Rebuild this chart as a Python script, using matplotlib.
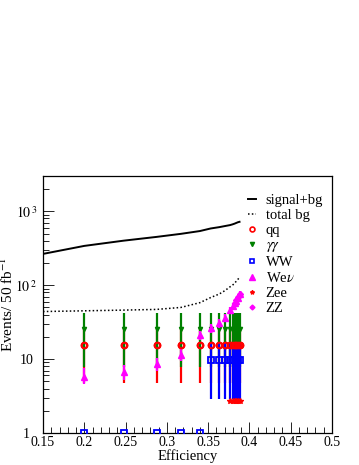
import numpy as np
import matplotlib
matplotlib.use('Agg')
from matplotlib import pyplot as plt
from matplotlib.lines import Line2D
from matplotlib.ticker import FixedLocator, NullFormatter

plt.rcParams['font.family'] = ['Liberation Serif', 'DejaVu Serif']
plt.rcParams['mathtext.fontset'] = 'stix'

# efficiency points of the cut scan
eff = [0.2, 0.2475, 0.2875, 0.317, 0.34, 0.353, 0.3635, 0.370,
       0.3765, 0.3795, 0.382, 0.384, 0.386, 0.388]

# curves (include the left edge)
curve_eff = [0.15] + eff
sig_bg = [265, 340, 400, 450, 495, 540, 585, 610, 630, 650, 665, 680, 695, 710, 720]
tot_bg = [44, 45, 46, 47, 50, 58, 68, 76, 84, 95, 100, 106, 113, 120, 127]

# background components: value, lower error, upper error
qq = [15.7] * 14
qq_lo = [11.0] * 14
qq_hi = [11.0] * 14

gg = [25.5] * 14
gg_lo = [17.8] * 14
gg_hi = [16.5] * 14

ww = [0.99, 0.99, 0.99, 0.99, 0.99, 9.8, 9.8, 9.8, 9.8, 9.8, 9.8, 9.8, 9.8, 9.8]
ww_lo = [0, 0, 0, 0, 0, 6.9, 6.9, 6.9, 6.9, 6.9, 6.9, 6.9, 6.9, 6.9]
ww_hi = [0, 0, 0, 0, 0, 6.9, 6.9, 6.9, 6.9, 6.9, 6.9, 6.9, 6.9, 6.9]

wev = [5.8, 6.6, 8.5, 11.5, 21, 26, 30.5, 36, 46, 52, 57, 62, 68, 76]
wev_lo = [1.2, 1.4, 1.7, 2.2, 3.0, 3.5, 3.8, 4.0, 4.5, 4.8, 5.0, 5.3, 5.6, 6.0]
wev_hi = [1.8, 1.8, 2.0, 2.4, 3.2, 3.6, 4.0, 4.2, 4.8, 5.0, 5.2, 5.5, 5.8, 6.2]

zee = [np.nan] * 8 + [2.7] * 6
zz_eff = [0.382, 0.384, 0.386, 0.388]
zz = [58, 63, 69, 75]

fig = plt.figure(figsize=(3.59, 4.65), dpi=100)
ax = fig.add_axes([0.1198, 0.0688, 0.805, 0.5527])

ax.plot(curve_eff, sig_bg, color='black', lw=1.4, zorder=5)
ax.plot(curve_eff, tot_bg, color='black', lw=1.1, ls=(0, (1, 1.5)), zorder=5)

ax.errorbar(eff, qq, yerr=[qq_lo, qq_hi], fmt='o', color='red', mfc='none',
            ms=4, mew=1.5, elinewidth=1.6, capsize=0, zorder=2)
ax.errorbar(eff, gg, yerr=[gg_lo, gg_hi], fmt='v', color='green', ms=3,
            elinewidth=1.6, capsize=0, zorder=3)
ax.errorbar(eff, ww, yerr=[ww_lo, ww_hi], fmt='s', color='blue', mfc='none',
            ms=4, mew=1.3, elinewidth=1.6, capsize=0, zorder=4)
ax.errorbar(eff, wev, yerr=[wev_lo, wev_hi], fmt='^', color='magenta', ms=4.5,
            elinewidth=1.6, capsize=0, zorder=4)
ax.plot(eff, zee, '*', color='red', ms=4, zorder=4)
ax.plot(eff[8:], zee[8:], color='red', lw=2, zorder=4)
ax.plot(zz_eff, zz, 'D', color='magenta', ms=3, zorder=4)
ax.plot(eff, qq, 'o', color='red', mfc='none', ms=4, mew=1.5, zorder=6)

ax.set_yscale('log')
ax.set_xlim(0.15, 0.5)
ax.set_ylim(1, 3000)

ax.xaxis.set_major_locator(FixedLocator([0.15, 0.2, 0.25, 0.3, 0.35, 0.4, 0.45, 0.5]))
ax.set_xticklabels(['0.15', '0.2', '0.25', '0.3', '0.35', '0.4', '0.45', '0.5'])
ax.xaxis.set_minor_locator(FixedLocator(np.arange(0.15, 0.501, 0.01)))
ax.yaxis.set_major_locator(FixedLocator([1, 10, 100, 1000]))
ax.set_yticklabels(['1', '10', r'$10^{\,2}$', r'$10^{\,3}$'])
minor_y = [m * 10 ** d for d in range(0, 4) for m in range(2, 10)]
ax.yaxis.set_minor_locator(FixedLocator(minor_y))
ax.yaxis.set_minor_formatter(NullFormatter())

ax.tick_params(which='both', direction='in', labelsize=10, width=0.6)
ax.tick_params(which='major', length=8)
ax.tick_params(which='minor', length=4)
ax.tick_params(axis='x', pad=2)
ax.tick_params(axis='y', pad=12)
for lab in ax.get_yticklabels():
    lab.set_horizontalalignment('center')
for s in ax.spines.values():
    s.set_linewidth(0.9)

ax.set_xlabel('Efficiency', fontsize=10.5, labelpad=0)
ax.set_ylabel(r'Events/ 50 fb$^{-1}$', fontsize=11)
ax.yaxis.set_label_coords(-0.092, 0.5)

handles = [
    Line2D([], [], color='black', lw=1.4),
    Line2D([], [], color='black', lw=1.1, ls=(0, (1, 1.5))),
    Line2D([], [], color='red', marker='o', mfc='none', ls='none', ms=3.5, mew=1.2),
    Line2D([], [], color='green', marker='v', ls='none', ms=3),
    Line2D([], [], color='blue', marker='s', mfc='none', ls='none', ms=3.5, mew=1.2),
    Line2D([], [], color='magenta', marker='^', ls='none', ms=4),
    Line2D([], [], color='red', marker='*', ls='none', ms=3),
    Line2D([], [], color='magenta', marker='D', ls='none', ms=2.5),
]
labels = ['signal+bg', 'total bg', 'qq', r'$\gamma\gamma$', 'WW', r'We$\nu$', 'Zee', 'ZZ']
ax.legend(handles, labels, loc='upper left', bbox_to_anchor=(0.69, 0.955),
          frameon=False, fontsize=10.5, handlelength=0.5, handletextpad=0.7,
          labelspacing=0.13, borderaxespad=0)

fig.savefig('out.png', dpi=100)
